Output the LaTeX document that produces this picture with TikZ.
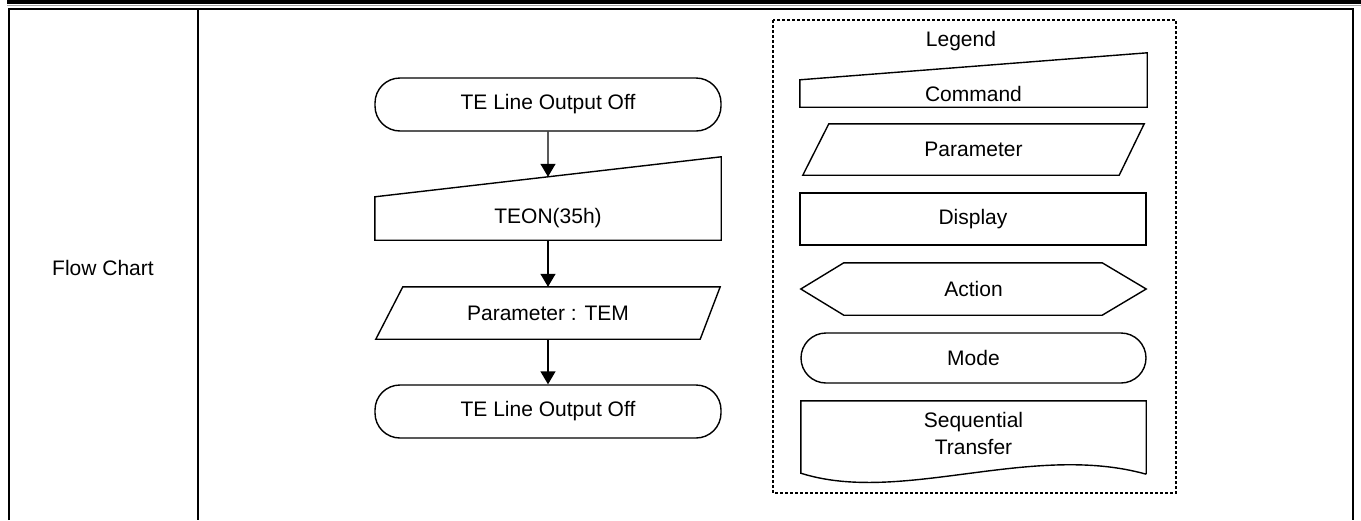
\documentclass[tikz,border=0pt]{standalone}
\usepackage{fontspec}
\setmainfont{Liberation Sans}
\usetikzlibrary{calc,arrows.meta}

\begin{document}
\begin{tikzpicture}[
            x=1pt,
            y=-1pt,
            every node/.style={
                font=\fontsize{21}{27}\selectfont,
                inner sep=0pt
            },
            shapeline/.style={draw, line width=1.4pt},
            terminal/.style={
                rectangle,
                shapeline,
                rounded corners=25pt,
                minimum width=346pt,
                minimum height=53pt
            },
            textbox/.style={
                rectangle,
                minimum width=346pt,
                minimum height=52pt
            },
            flowarrow/.style={
                line width=1.4pt,
                -{Triangle[length=13pt,width=15pt]}
            },
            tableline/.style={line width=2.2pt},
            dotbox/.style={line width=1.3pt, dash pattern=on 3pt off 2pt}
        ]
            \useasboundingbox (0,0) rectangle (1361,520);

            % table frame
            \fill (7,0) rectangle (1361,3.8);
            \draw[black!35, line width=0.8pt] (7,5.4) -- (1361,5.4);
            \draw[tableline] (9,520) -- (9,9) -- (1353,9) -- (1353,520);
            \draw[tableline] (198,9) -- (198,520);
            \node (title) at (103,268) {Flow Chart};

            % flow
            \node[terminal] (start) at (548,104.5) {TE Line Output Off};
            \node[textbox, minimum height=43pt] (teon) at (548,218.5) {TEON(35h)};
            \node[textbox, minimum width=344pt] (tem) at (548,313) {Parameter : TEM};
            \node[terminal] (stop) at (548,411.5) {TE Line Output Off};

            \draw[shapeline] (teon.south west) -- (teon.north west)
                -- ([yshift=40pt]teon.north east) -- (teon.south east) -- cycle;
            \draw[shapeline] ([xshift=27pt]tem.north west) -- (tem.north east)
                -- ([xshift=-20pt]tem.south east) -- (tem.south west) -- cycle;

            \coordinate (teonin) at ($(teon.north west)!0.5!([yshift=40pt]teon.north east)$);

            \draw[flowarrow] (start)--(teonin);
            \draw[flowarrow] (teon)--(tem);
            \draw[flowarrow] (tem)--(stop);

            % legend
            \draw[dotbox] (773,20) rectangle (1176,493);
            \node (legend) at (961,41) {Legend};

            \node[textbox, minimum width=347pt, minimum height=27pt] (lcmd) at (973.5,93.5) {Command};
            \draw[shapeline] (lcmd.south west) -- (lcmd.north west)
                -- ([yshift=27pt]lcmd.north east) -- (lcmd.south east) -- cycle;

            \node[textbox, minimum width=341pt, minimum height=51pt] (lpar) at (973.5,149.5) {Parameter};
            \draw[shapeline] ([xshift=26pt]lpar.north west) -- (lpar.north east)
                -- ([xshift=-25pt]lpar.south east) -- (lpar.south west) -- cycle;

            \node[textbox, shapeline] (ldisp) at (973,219) {Display};

            \node[textbox, minimum width=345pt] (lact) at (973.5,289) {Action};
            \draw[shapeline] (lact.west) -- ([xshift=43pt]lact.north west)
                -- ([xshift=-44pt]lact.north east) -- (lact.east)
                -- ([xshift=-44pt]lact.south east) -- ([xshift=43pt]lact.south west) -- cycle;

            \node[terminal, minimum width=345pt, minimum height=50pt] (lmode) at (973.5,358) {Mode};

            \node[textbox, minimum width=345pt, minimum height=65pt, align=center] (lseq) at (973.5,433.5)
                {Sequential\\Transfer};
            \draw[shapeline] ([yshift=-8pt]lseq.south east) -- (lseq.north east) -- (lseq.north west)
                -- ([yshift=-7pt]lseq.south west) .. controls (901,505) and (1031,442) .. ([yshift=-8pt]lseq.south east);
        \end{tikzpicture}
\end{document}
